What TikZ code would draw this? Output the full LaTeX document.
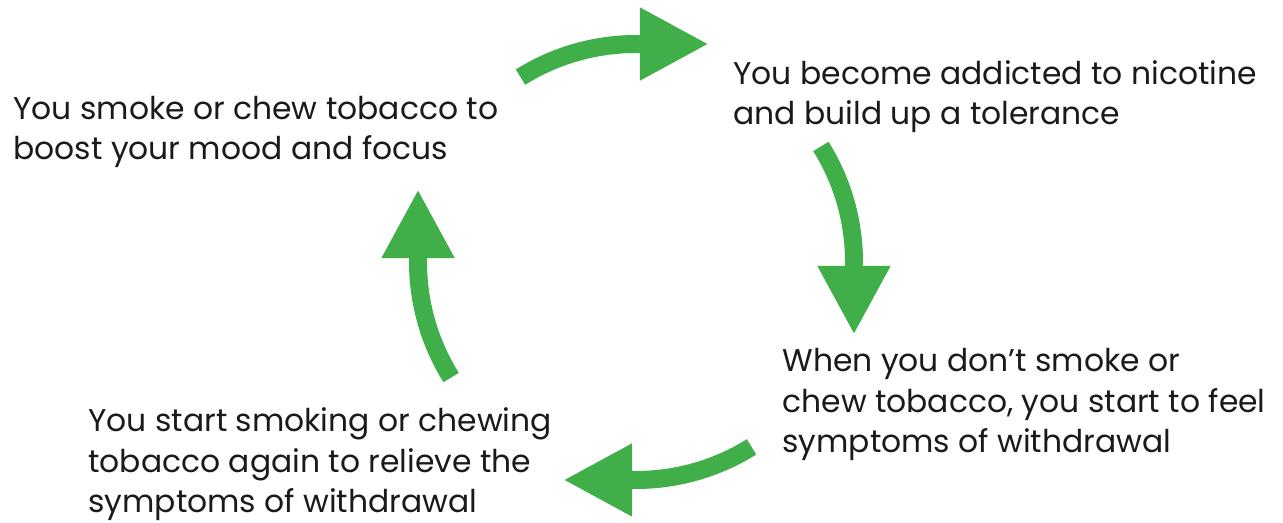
\documentclass[tikz,border=0pt]{standalone}
\usepackage{fontspec}
\setmainfont{Poppins}
\usepackage{xcolor}
\usetikzlibrary{arrows.meta}
\definecolor{cyclegreen}{RGB}{64,174,73}
\definecolor{cycletext}{RGB}{26,26,26}

\begin{document}
\begin{tikzpicture}[x=0.5pt,y=0.5pt,
  steptext/.style={anchor=base west, inner sep=0pt, align=left, text=cycletext,
    font=\fontsize{15.7pt}{20.25pt}\selectfont},
  cyclearrow/.style={cyclegreen, line width=9pt,
    -{Triangle[length=34.5pt,width=34pt]}}]

\useasboundingbox (0,0) rectangle (1283,523);
\coordinate (hub) at (636,261);

% text blocks, placed at the baseline of their last line
\node [steptext] (boost) at (13,363) {You smoke or chew tobacco to\\boost your mood and focus};
\node [steptext] (addict) at (733,398) {You become addicted to nicotine\\and build up a tolerance};
\node [steptext] (withdraw) at (782,70) {When you don’t smoke or\\chew tobacco, you start to feel\\symptoms of withdrawal};
\node [steptext] (relieve) at (88,10) {You start smoking or chewing\\tobacco again to relieve the\\symptoms of withdrawal};

\foreach \a/\dx/\dy in {90/1/0, 0/0/-1, -90/-1/0, 180/0/1}
{
\draw [cyclearrow] ([shift={(\a+32:218)}]hub) arc [start angle=\a+32, end angle=\a-1, radius=109pt]
  -- ++(69*\dx,69*\dy);
}

\end{tikzpicture}
\end{document}
